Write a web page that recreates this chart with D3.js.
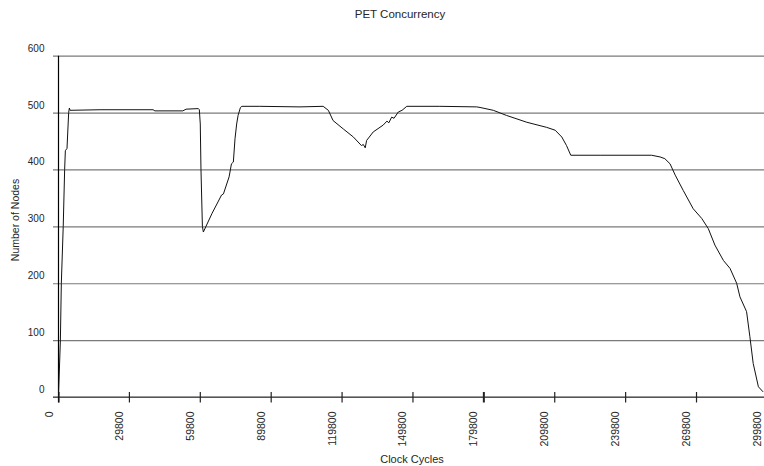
<!DOCTYPE html>
<html>
<head>
<meta charset="utf-8">
<script src="https://cdn.jsdelivr.net/npm/d3@7"></script>
<style>
  html, body { margin: 0; padding: 0; background: #fff; }
  svg { display: block; font-family: "Liberation Sans", Arial, sans-serif; }
  svg text { fill: #262626; }
</style>
</head>
<body>
<svg id="chart" width="764" height="466"></svg>
<script>
// Clock cycle sample points and the number of concurrently active nodes
const cycles = [0, 800, 1200, 2000, 2600, 2900, 3600, 4300, 4600, 4900,
  17600, 40000, 40800, 52600, 54000, 59200, 59600, 60000, 60300, 60900,
  61300, 65000, 69000, 69800, 72200, 73200, 74000, 74700, 75400, 76000,
  77000, 77600, 85200, 102200, 112000, 114200, 116200, 120600, 124800, 128200,
  129000, 129800, 130400, 133200, 137400, 139000, 139800, 141000, 142000, 143800,
  145400, 147400, 161400, 177000, 178400, 184000, 189600, 198200, 206600, 210200,
  213000, 215000, 216800, 229200, 251000, 254600, 256600, 258800, 261000, 264400,
  268600, 272200, 275000, 277800, 281400, 284200, 287000, 288400, 291200, 292600,
  294000, 296200, 298200];
const nodes = [3, 100, 200, 300, 400, 433, 437, 500, 508, 504,
  505, 505, 503, 503, 506, 507, 505, 480, 400, 300,
  290, 323, 355, 357, 387, 410, 413, 454, 480, 495,
  509, 511, 511, 510, 511, 504, 486, 471, 457, 442,
  444, 438, 451, 466, 478, 485, 482, 492, 490, 501,
  504, 511, 511, 510, 509, 504, 495, 483, 474, 469,
  457, 442, 425, 425, 425, 422, 419, 410, 390, 363,
  331, 314, 296, 267, 240, 226, 200, 176, 150, 106,
  59, 18, 9];

const xTicks = [0, 29800, 59800, 89800, 119800, 149800, 179800, 209800, 239800, 269800, 299800];
const yTicks = [0, 100, 200, 300, 400, 500, 600];

const W = 764, H = 466;
const plotLeft = 58.5, plotBottom = 397, plotTop = 55.7;
const svg = d3.select("#chart");

const x = d3.scaleLinear().domain([0, 299800]).range([plotLeft, 766.9]);
const y = d3.scaleLinear().domain([0, 600]).range([plotBottom, plotTop]);

// Horizontal gridlines with their short outside ticks
const yAxis = d3.axisLeft(y).tickValues(yTicks).tickSize(-(W - plotLeft)).tickSizeOuter(0).tickFormat(d3.format("d"));
const gy = svg.append("g").attr("transform", `translate(${plotLeft},0)`).call(yAxis);
gy.select(".domain").remove();
gy.selectAll(".tick line")
  .attr("x1", -5.5)
  .attr("stroke", "#7a7a7a")
  .attr("stroke-width", 1.2);
gy.selectAll(".tick text")
  .attr("x", -14)
  .attr("dy", "-0.45em")
  .attr("fill", "#262626")
  .style("font-size", "10px");

// Baseline along value zero
svg.append("line")
  .attr("x1", plotLeft - 5.5).attr("x2", W)
  .attr("y1", y(0)).attr("y2", y(0))
  .attr("stroke", "#333").attr("stroke-width", 1.2);

// Vertical value axis
svg.append("line")
  .attr("x1", plotLeft).attr("x2", plotLeft)
  .attr("y1", plotTop).attr("y2", plotBottom + 5.5)
  .attr("stroke", "#000").attr("stroke-width", 1.2);

// Clock cycle ticks and rotated labels
const xAxis = d3.axisBottom(x).tickValues(xTicks).tickSize(5.5).tickSizeOuter(0).tickFormat(d3.format("d"));
const gx = svg.append("g").attr("transform", `translate(0,${plotBottom})`).call(xAxis);
gx.select(".domain").remove();
gx.selectAll(".tick line")
  .attr("y1", -5)
  .attr("stroke", "#222")
  .attr("stroke-width", d => d === 179800 ? 2 : 1.2);
gx.selectAll(".tick text")
  .attr("transform", "rotate(-90)")
  .attr("text-anchor", "end")
  .attr("x", -14.5)
  .attr("y", -6.5)
  .attr("dy", 0)
  .attr("fill", "#262626")
  .style("font-size", "10.5px");

// Concurrency trace
const line = d3.line().x((d, i) => x(cycles[i])).y(d => y(d));
svg.append("path")
  .datum(nodes)
  .attr("d", line)
  .attr("fill", "none")
  .attr("stroke", "#111")
  .attr("stroke-width", 1);

// Titles
svg.append("text")
  .attr("x", 400).attr("y", 18)
  .attr("text-anchor", "middle")
  .style("font-size", "11.5px")
  .text("PET Concurrency");

svg.append("text")
  .attr("x", 412).attr("y", 463)
  .attr("text-anchor", "middle")
  .style("font-size", "11px")
  .text("Clock Cycles");

svg.append("text")
  .attr("transform", "translate(19,220) rotate(-90)")
  .attr("text-anchor", "middle")
  .style("font-size", "10.5px")
  .text("Number of Nodes");
</script>
</body>
</html>
